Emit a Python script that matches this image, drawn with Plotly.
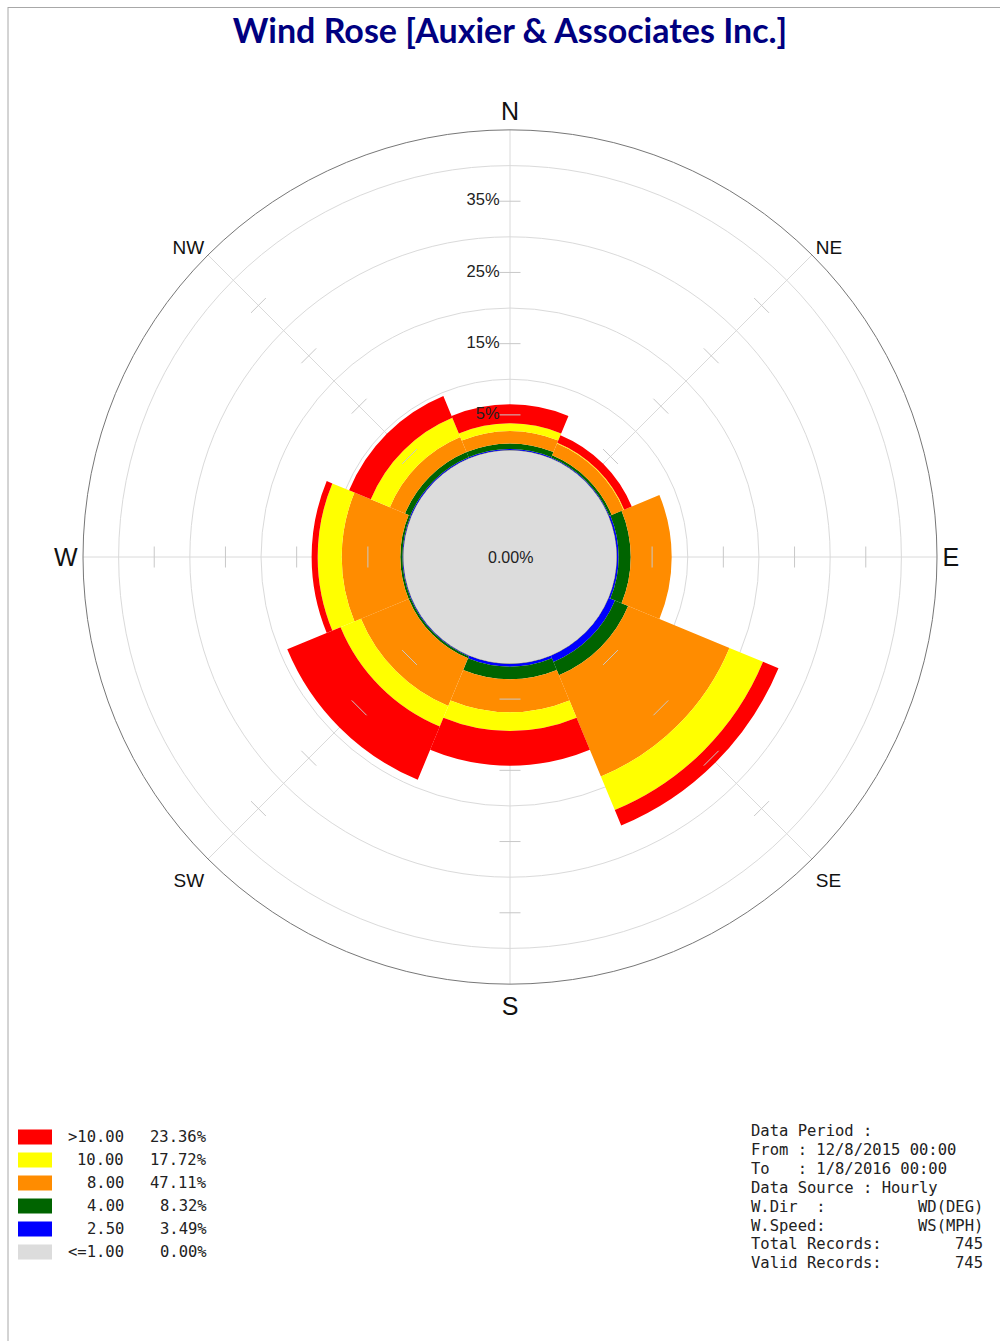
import plotly.graph_objects as go

W, H = 1000, 1341

# ---- data ----
directions = ["N", "NE", "E", "SE", "S", "SW", "W", "NW"]
angles = [0, 45, 90, 135, 180, 225, 270, 315]
speed_bins = ["2.50", "4.00", "8.00", "10.00", ">10.00"]
blue_250 = [0.20, 0.15, 0.30, 1.00, 0.45, 0.15, 0.15, 0.20]
green_400 = [0.80, 0.35, 1.70, 2.00, 1.77, 0.30, 0.30, 0.80]
orange_800 = [1.74, 1.80, 5.75, 15.40, 4.63, 7.25, 8.23, 2.30]
yellow_1000 = [1.08, 0.10, 0.00, 5.10, 2.63, 3.10, 3.37, 2.90]
red_gt10 = [2.67, 1.15, 0.00, 2.35, 4.87, 8.10, 0.85, 3.30]
calm_pct = "0.00%"

legend_labels = [">10.00", "10.00", "8.00", "4.00", "2.50", "<=1.00"]
legend_pcts = ["23.36%", "17.72%", "47.11%", "8.32%", "3.49%", "0.00%"]
legend_colors = ["#ff0000", "#ffff00", "#ff8c00", "#006400", "#0000ff", "#dcdcdc"]

grid_vals = [10, 20, 30, 40]
tick_vals = [5, 15, 25, 35]
tick_text = ["5%", "15%", "25%", "35%"]

info_lines = [
    ("Data Period :", ""),
    ("From : 12/8/2015 00:00", ""),
    ("To   : 1/8/2016 00:00", ""),
    ("Data Source : Hourly", ""),
    ("W.Dir  :", "WD(DEG)"),
    ("W.Speed:", "WS(MPH)"),
    ("Total Records:", "745"),
    ("Valid Records:", "745"),
]

# ---- layout geometry (pixels) ----
cx, cy, R = 510, 557, 427
hole_px = 106.5


def px(x):
    return x / W


def py(y):
    return 1 - y / H


fig = go.Figure()

series = [
    (blue_250, "#0000ff", "2.50"),
    (green_400, "#006400", "4.00"),
    (orange_800, "#ff8c00", "8.00"),
    (yellow_1000, "#ffff00", "10.00"),
    (red_gt10, "#ff0000", ">10.00"),
]
for vals, col, name in series:
    fig.add_trace(go.Barpolar(
        r=vals, theta=angles, width=[45] * len(angles), name=name,
        marker=dict(color=col, line=dict(width=0)), showlegend=False,
        hoverinfo="skip",
    ))

# tick marks across every spoke + labels on the N spoke
t_theta, t_r, t_txt = [], [], []
for a in angles:
    for v, lab in zip(tick_vals, tick_text):
        t_theta.append(a)
        t_r.append(v)
        t_txt.append(lab if a == 0 else "")
fig.add_trace(go.Scatterpolar(
    r=t_r, theta=t_theta, mode="markers+text", text=t_txt,
    textposition="middle left",
    textfont=dict(family="Liberation Sans, Arial", size=16.5, color="#222"),
    marker=dict(symbol="line-ew", size=15, angle=t_theta,
                line=dict(width=1, color="#c8c8c8"), color="#c8c8c8"),
    showlegend=False, hoverinfo="skip", cliponaxis=False,
))

ticktext = []
for d in directions:
    if len(d) == 1:
        ticktext.append(d)
    else:
        ticktext.append('<span style="font-size:19px">%s</span>' % d)

fig.update_layout(
    width=W, height=H,
    margin=dict(l=0, r=0, t=0, b=0),
    paper_bgcolor="white",
    title=dict(text="<b>Wind Rose [Auxier &amp; Associates Inc.]</b>",
               x=px(510), xanchor="center", y=py(31), yanchor="middle",
               yref="container",
               font=dict(family="Comic Sans MS, Lato", size=34, color="#000080")),
    polar=dict(
        domain=dict(x=[px(cx - R), px(cx + R)], y=[py(cy + R), py(cy - R)]),
        bgcolor="white",
        hole=hole_px / R,
        barmode="stack",
        radialaxis=dict(range=[0, 45], tickvals=grid_vals, showticklabels=False,
                        ticks="", showline=False, gridcolor="#dadada",
                        gridwidth=1, layer="above traces"),
        angularaxis=dict(direction="clockwise", rotation=90, tickmode="array",
                         tickvals=angles, ticktext=ticktext, ticks="",
                         tickfont=dict(family="Liberation Sans, Arial", size=25, color="#111"),
                         showline=True, linecolor="#777777", linewidth=1,
                         gridcolor="#dadada", gridwidth=1, layer="above traces"),
    ),
)

shapes = []
# calm circle
shapes.append(dict(type="circle", xref="paper", yref="paper",
                   x0=px(cx - hole_px), x1=px(cx + hole_px),
                   y0=py(cy + hole_px), y1=py(cy - hole_px),
                   fillcolor="#dcdcdc", line=dict(width=0), layer="above"))
# frame lines
shapes.append(dict(type="line", xref="paper", yref="paper",
                   x0=px(8), x1=px(8), y0=py(7), y1=py(H),
                   line=dict(color="#a8a8a8", width=1)))
shapes.append(dict(type="line", xref="paper", yref="paper",
                   x0=px(8), x1=px(W), y0=py(7.5), y1=py(7.5),
                   line=dict(color="#a8a8a8", width=1)))

annotations = [dict(text=calm_pct, x=px(cx), y=py(cy), xref="paper", yref="paper",
                    showarrow=False, xanchor="center", yanchor="middle",
                    font=dict(family="Liberation Sans, Arial", size=16, color="#222"))]

mono = dict(family="DejaVu Sans Mono", size=15.5, color="#222")
for i, (lab, pct, col) in enumerate(zip(legend_labels, legend_pcts, legend_colors)):
    yc = 1137 + 23 * i
    shapes.append(dict(type="rect", xref="paper", yref="paper",
                       x0=px(18), x1=px(52), y0=py(yc + 7.5), y1=py(yc - 7.5),
                       fillcolor=col, line=dict(width=0)))
    annotations.append(dict(text=lab, x=px(126), y=py(yc), xref="paper", yref="paper",
                            showarrow=False, xanchor="right", yanchor="middle", font=mono))
    annotations.append(dict(text=pct, x=px(209), y=py(yc), xref="paper", yref="paper",
                            showarrow=False, xanchor="right", yanchor="middle", font=mono))

for i, (left, right) in enumerate(info_lines):
    yc = 1131 + 18.9 * i
    annotations.append(dict(text=left.replace(" ", "\u00a0"), x=px(749), y=py(yc),
                            xref="paper", yref="paper", showarrow=False,
                            xanchor="left", yanchor="middle", font=mono))
    if right:
        annotations.append(dict(text=right, x=px(985), y=py(yc),
                                xref="paper", yref="paper", showarrow=False,
                                xanchor="right", yanchor="middle", font=mono))

fig.update_layout(shapes=shapes, annotations=annotations)
fig.write_html("out.html", config={"displayModeBar": False},
               post_script="document.body.style.margin='0';document.body.style.overflow='hidden';")
